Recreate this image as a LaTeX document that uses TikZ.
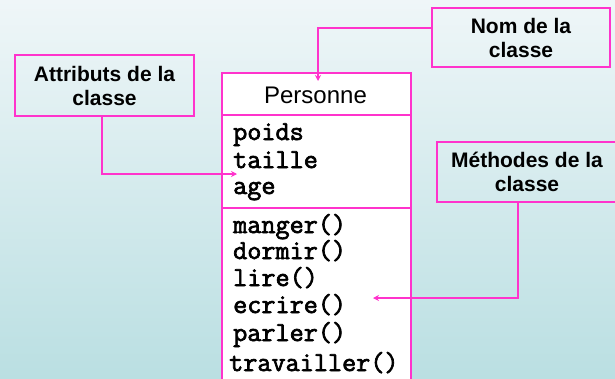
\documentclass[tikz,border=0pt]{standalone}
\usepackage{fontspec}
\setmainfont{Liberation Sans}
\newfontfamily\membfont{Latin Modern Mono}[FakeBold=2.5]
\usetikzlibrary{arrows.meta}
\definecolor{pinkline}{RGB}{255,51,204}
\definecolor{bgtop}{RGB}{239,246,248}
\definecolor{bgbot}{RGB}{186,223,226}
\tikzset{
  labelbox/.style={draw=pinkline, line width=2pt, inner sep=0pt, align=center,
    font=\fontsize{21}{24}\selectfont\bfseries},
  classpart/.style={draw=pinkline, line width=2pt, fill=white, inner sep=0pt},
  membertext/.style={anchor=base west, inner sep=0pt, font=\fontsize{27.4}{27}\selectfont\membfont},
  connector/.style={draw=pinkline, line width=2pt, -{Stealth[length=6pt,width=6pt]}},
}
\begin{document}
\begin{tikzpicture}[x=1pt,y=-1pt]
\shade[top color=bgtop, bottom color=bgbot] (0,0) rectangle (615,378);
\useasboundingbox (0,0) rectangle (615,378);
% class box compartments
\node[classpart, minimum width=189pt, minimum height=42pt, anchor=north west] (cname) at (221,72) {};
\node[classpart, minimum width=189pt, minimum height=93pt, anchor=north west] (cattr) at (221,114) {};
\node[classpart, minimum width=189pt, minimum height=190pt, anchor=north west] (cmeth) at (221,207) {};
\node[inner sep=0pt, font=\fontsize{24}{27}\selectfont] (pname) at (315.5,95) {Personne};
% attributes
\node[membertext] (a1) at (233,140) {poids};
\node[membertext] (a2) at (233,168) {taille};
\node[membertext] (a3) at (233,194) {age};
% methods
\node[membertext] (m1) at (233,233) {manger()};
\node[membertext] (m2) at (233,259) {dormir()};
\node[membertext] (m3) at (233,286) {lire()};
\node[membertext] (m4) at (233,313) {ecrire()};
\node[membertext] (m5) at (233,341) {parler()};
\node[membertext] (m6) at (229,371) {travailler()};
% label boxes
\node[labelbox, minimum width=178pt, minimum height=59pt] (nom) at (521,37.5) {Nom de la\\classe};
\node[labelbox, minimum width=179pt, minimum height=61pt] (attr) at (104.5,85.5) {Attributs de la\\classe};
\node[labelbox, minimum width=180pt, minimum height=60pt] (meth) at (527,172) {Méthodes de la\\classe};
% connector endpoints
\coordinate (nomtip) at (318,81);
\coordinate (attrtip) at (237,174);
\coordinate (methtip) at (373,298);
\draw[connector] (nom.west |- 0,28) -| (nomtip);
\draw[connector] (attr.south -| 102,0) |- (attrtip);
\draw[connector] (meth.south -| 518,0) |- (methtip);
\end{tikzpicture}
\end{document}
